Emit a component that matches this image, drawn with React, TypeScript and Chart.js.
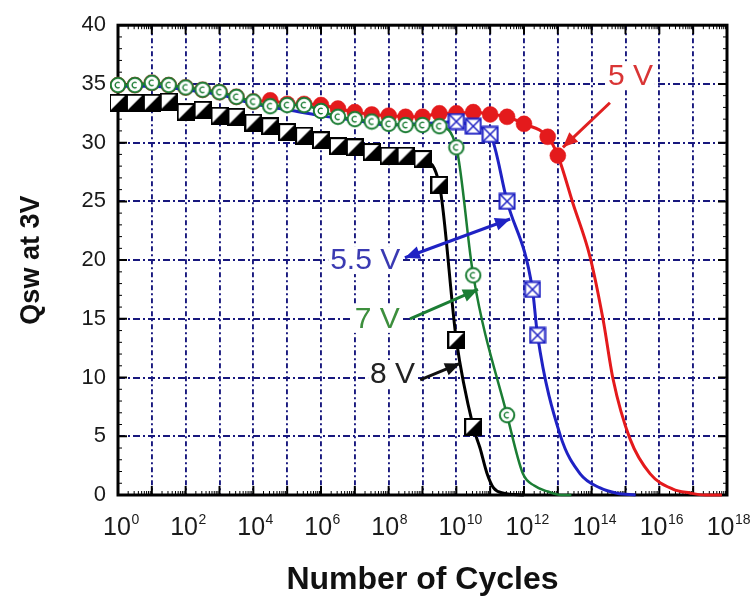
import { useEffect, useRef } from 'react';
import { Chart, registerables } from 'chart.js';
Chart.register(...registerables);

const FONT = "'Liberation Sans', Arial, Helvetica, sans-serif";
const NAVY = '#18187e';
const RED = '#e41a1c';
const BLUE = '#1f22c4';
const GREEN = '#1b7d34';
const BLACK = '#000000';

// x axis: decades (exponent of 10)
const decadeExps = [0, 1, 2, 3, 4, 5, 6, 7, 8, 9, 10, 11, 12, 13, 14, 15, 16, 17, 18];
const labelExps = [0, 2, 4, 6, 8, 10, 12, 14, 16, 18];

// 8 V (black half-filled squares)
const v8MarkerExp = [0, 0.5, 1, 1.5, 2, 2.5, 3, 3.5, 4, 4.5, 5, 5.5, 6, 6.5, 7, 7.5, 8, 8.5, 9, 9.5, 10, 10.5];
const v8MarkerQ = [33.4, 33.4, 33.4, 33.5, 32.6, 32.8, 32.3, 32.2, 31.7, 31.4, 30.9, 30.6, 30.2, 29.7, 29.6, 29.2, 28.9, 28.9, 28.6, 26.4, 13.2, 5.8];
const v8TailExp = [10.7, 10.9, 11.1, 11.4, 12.0];
const v8TailQ = [4.0, 1.9, 0.6, 0.15, 0];

// 7 V (green open circles)
const v7MarkerExp = [0, 0.5, 1, 1.5, 2, 2.5, 3, 3.5, 4, 4.5, 5, 5.5, 6, 6.5, 7, 7.5, 8, 8.5, 9, 9.5, 10, 10.5, 11.5];
const v7MarkerQ = [34.9, 34.9, 35.1, 34.9, 34.7, 34.5, 34.3, 33.9, 33.5, 33.1, 33.2, 33.2, 32.7, 32.2, 32.0, 31.8, 31.6, 31.5, 31.5, 31.4, 29.6, 18.7, 6.8];
const v7TailExp = [11.97, 12.3, 12.7, 13.1, 13.4];
const v7TailQ = [1.8, 0.8, 0.3, 0, 0];

// 5.5 V (blue crossed squares)
const v55LeadExp = [0, 1, 2, 3, 4, 5, 6, 7, 8, 9, 9.5];
const v55LeadQ = [34.8, 34.8, 34.5, 34.1, 33.3, 32.8, 32.3, 31.9, 31.5, 31.6, 31.7];
const v55MarkerExp = [10, 10.5, 11, 11.5, 12.25, 12.4];
const v55MarkerQ = [31.8, 31.4, 30.7, 25.0, 17.5, 13.6];
const v55TailExp = [13.07, 13.66, 14.25, 14.75, 15.3];
const v55TailQ = [5.1, 1.8, 0.6, 0.15, 0];

// 5 V (red filled circles)
const v5MarkerExp = [0, 0.5, 1, 1.5, 2, 2.5, 3, 3.5, 4, 4.5, 5, 5.5, 6, 6.5, 7, 7.5, 8, 8.5, 9, 9.5, 10, 10.5, 11, 11.5, 12, 12.7, 13];
const v5MarkerQ = [34.9, 34.9, 35.1, 34.9, 34.7, 34.5, 34.3, 33.9, 33.5, 33.6, 33.3, 33.3, 33.2, 32.9, 32.6, 32.4, 32.3, 32.2, 32.2, 32.5, 32.5, 32.6, 32.4, 32.2, 31.6, 30.5, 28.9];
const v5TailExp = [13.45, 13.95, 14.34, 14.63, 15.13, 15.73, 16.4, 16.9, 17.35, 17.85];
const v5TailQ = [24.8, 20.3, 14.9, 9.9, 4.8, 1.8, 0.5, 0.17, 0, 0];

const annotations = [
  { text: '5 V', textColor: '#d93535', arrowColor: '#e02020', at: [14.48, 35.7], from: [14.54, 33.4], to: [13.15, 29.6], both: false },
  { text: '5.5 V', textColor: '#3a3ab2', arrowColor: BLUE, at: [6.27, 20.0], from: [8.48, 20.2], to: [11.59, 23.5], both: true },
  { text: '7 V', textColor: '#3d8f3d', arrowColor: GREEN, at: [7.0, 15.0], from: [8.63, 15.0], to: [10.64, 17.5], both: false },
  { text: '8 V', textColor: '#222222', arrowColor: '#111111', at: [7.45, 10.3], from: [8.93, 9.8], to: [10.11, 11.2], both: false },
];

type Seg = { exp: number[]; q: number[]; marker: boolean };
function build(segs: Seg[]) {
  const data: { x: number; y: number }[] = [];
  const flags: boolean[] = [];
  segs.forEach((s) =>
    s.exp.forEach((e, i) => {
      data.push({ x: Math.pow(10, e), y: s.q[i] });
      flags.push(s.marker);
    })
  );
  return { data, flags };
}

function makeCanvas(size: number, draw: (g: CanvasRenderingContext2D) => void) {
  const c = document.createElement('canvas');
  c.width = size;
  c.height = size;
  const g = c.getContext('2d')!;
  draw(g);
  return c;
}

export default function App() {
  const ref = useRef<HTMLCanvasElement | null>(null);

  useEffect(() => {
    document.body.style.margin = '0';
    const blackSq = makeCanvas(18, (g) => {
      g.fillStyle = '#fff';
      g.fillRect(1, 1, 16, 16);
      g.fillStyle = '#000';
      g.beginPath();
      g.moveTo(17, 1);
      g.lineTo(17, 17);
      g.lineTo(1, 17);
      g.closePath();
      g.fill();
      g.strokeStyle = '#000';
      g.lineWidth = 2;
      g.strokeRect(1, 1, 16, 16);
    });
    const greenCirc = makeCanvas(18, (g) => {
      g.fillStyle = '#fff';
      g.beginPath();
      g.arc(9, 9, 7.2, 0, Math.PI * 2);
      g.fill();
      g.strokeStyle = GREEN;
      g.lineWidth = 2;
      g.stroke();
      g.lineWidth = 1.4;
      g.beginPath();
      g.arc(9, 9, 2.8, 0.3 * Math.PI, 1.7 * Math.PI);
      g.stroke();
    });
    const blueBox = makeCanvas(18, (g) => {
      g.fillStyle = '#fff';
      g.fillRect(1.5, 1.5, 15, 15);
      g.strokeStyle = BLUE;
      g.lineWidth = 2;
      g.strokeRect(1.5, 1.5, 15, 15);
      g.lineWidth = 1.5;
      g.beginPath();
      g.moveTo(2, 2);
      g.lineTo(16, 16);
      g.moveTo(16, 2);
      g.lineTo(2, 16);
      g.stroke();
    });

    const s8 = build([
      { exp: v8MarkerExp, q: v8MarkerQ, marker: true },
      { exp: v8TailExp, q: v8TailQ, marker: false },
    ]);
    const s7 = build([
      { exp: v7MarkerExp, q: v7MarkerQ, marker: true },
      { exp: v7TailExp, q: v7TailQ, marker: false },
    ]);
    const s55 = build([
      { exp: v55LeadExp, q: v55LeadQ, marker: false },
      { exp: v55MarkerExp, q: v55MarkerQ, marker: true },
      { exp: v55TailExp, q: v55TailQ, marker: false },
    ]);
    const s5 = build([
      { exp: v5MarkerExp, q: v5MarkerQ, marker: true },
      { exp: v5TailExp, q: v5TailQ, marker: false },
    ]);

    const mk = (label: string, s: ReturnType<typeof build>, color: string, style: any, width: number, order: number, filled = false) => ({
      type: 'line' as const,
      label,
      data: s.data,
      borderColor: color,
      borderWidth: width,
      backgroundColor: color,
      pointStyle: (c: any) => (s.flags[c.dataIndex] ? style : 'circle'),
      pointRadius: (c: any) => (s.flags[c.dataIndex] ? 8 : 0),
      pointHoverRadius: (c: any) => (s.flags[c.dataIndex] ? 8 : 0),
      pointBackgroundColor: color,
      pointBorderColor: color,
      pointBorderWidth: filled ? 0.5 : 1,
      cubicInterpolationMode: 'monotone' as const,
      order,
      clip: 8,
    });

    const framePlugin = {
      id: 'frame',
      beforeDatasetsDraw(chart: any) {
        const { ctx, chartArea: a, scales } = chart;
        const xs = scales.x;
        const ys = scales.y;
        ctx.save();
        ctx.strokeStyle = '#000';
        ctx.lineCap = 'butt';
        ctx.lineWidth = 2;
        ctx.beginPath();
        decadeExps.forEach((e) => {
          const px = xs.getPixelForValue(Math.pow(10, e));
          ctx.moveTo(px, a.bottom);
          ctx.lineTo(px, a.bottom - 9);
          ctx.moveTo(px, a.top);
          ctx.lineTo(px, a.top + 9);
        });
        for (let v = 0; v <= 40; v += 5) {
          const py = ys.getPixelForValue(v);
          ctx.moveTo(a.left, py);
          ctx.lineTo(a.left + 9, py);
          ctx.moveTo(a.right, py);
          ctx.lineTo(a.right - 9, py);
        }
        ctx.stroke();
        ctx.lineWidth = 1;
        ctx.beginPath();
        for (let d = 0; d < 18; d++) {
          for (let k = 2; k <= 9; k++) {
            const px = xs.getPixelForValue(k * Math.pow(10, d));
            ctx.moveTo(px, a.bottom);
            ctx.lineTo(px, a.bottom - 4);
            ctx.moveTo(px, a.top);
            ctx.lineTo(px, a.top + 4);
          }
        }
        for (let v = 0; v <= 40; v += 1) {
          if (v % 5 === 0) continue;
          const py = ys.getPixelForValue(v);
          ctx.moveTo(a.left, py);
          ctx.lineTo(a.left + 4, py);
          ctx.moveTo(a.right, py);
          ctx.lineTo(a.right - 4, py);
        }
        ctx.stroke();
        ctx.lineWidth = 3;
        ctx.strokeRect(a.left, a.top, a.right - a.left, a.bottom - a.top);
        ctx.restore();
      },
    };

    const xLabelPlugin = {
      id: 'xlabels',
      afterDraw(chart: any) {
        const { ctx, scales } = chart;
        const xs = scales.x;
        const base = xs.top + 40;
        ctx.save();
        ctx.fillStyle = '#1a1a1a';
        ctx.textBaseline = 'alphabetic';
        labelExps.forEach((e) => {
          const px = xs.getPixelForValue(Math.pow(10, e)) - 1 - e * 0.3;
          ctx.font = `25px ${FONT}`;
          ctx.textAlign = 'center';
          const w = ctx.measureText('10').width;
          ctx.fillText('10', px, base);
          ctx.font = `14px ${FONT}`;
          ctx.textAlign = 'left';
          ctx.fillText(String(e), px + w / 2 + 0.5, base - 11);
        });
        ctx.restore();
      },
    };

    const annoPlugin = {
      id: 'anno',
      afterDatasetsDraw(chart: any) {
        const { ctx, scales } = chart;
        const xs = scales.x;
        const ys = scales.y;
        const P = (p: number[]) => [xs.getPixelForValue(Math.pow(10, p[0])), ys.getPixelForValue(p[1])];
        const head = (x1: number, y1: number, x2: number, y2: number, color: string) => {
          const ang = Math.atan2(y2 - y1, x2 - x1);
          const L = 15;
          const W = 6.5;
          ctx.fillStyle = color;
          ctx.beginPath();
          ctx.moveTo(x2, y2);
          ctx.lineTo(x2 - L * Math.cos(ang) + W * Math.sin(ang), y2 - L * Math.sin(ang) - W * Math.cos(ang));
          ctx.lineTo(x2 - L * Math.cos(ang) - W * Math.sin(ang), y2 - L * Math.sin(ang) + W * Math.cos(ang));
          ctx.closePath();
          ctx.fill();
        };
        ctx.save();
        annotations.forEach((a) => {
          const [tx, ty] = P(a.at);
          ctx.font = `30px ${FONT}`;
          ctx.textAlign = 'left';
          ctx.textBaseline = 'middle';
          const w = ctx.measureText(a.text).width;
          ctx.fillStyle = '#fff';
          ctx.fillRect(tx - 2, ty - 14, w + 4, 28);
          ctx.fillStyle = a.textColor;
          ctx.fillText(a.text, tx, ty + 1);
          const [x1, y1] = P(a.from);
          const [x2, y2] = P(a.to);
          ctx.strokeStyle = a.arrowColor;
          ctx.lineWidth = 3;
          ctx.beginPath();
          ctx.moveTo(x1, y1);
          ctx.lineTo(x2, y2);
          ctx.stroke();
          head(x1, y1, x2, y2, a.arrowColor);
          if (a.both) head(x2, y2, x1, y1, a.arrowColor);
        });
        ctx.restore();
      },
    };

    const chart = new Chart(ref.current!, {
      type: 'line',
      data: {
        datasets: [
          mk('8 V', s8, BLACK, blackSq, 3, 1),
          mk('7 V', s7, GREEN, greenCirc, 2.5, 2),
          mk('5.5 V', s55, BLUE, blueBox, 3, 3),
          mk('5 V', s5, RED, 'circle', 3, 4, true),
        ] as any,
      },
      options: {
        animation: false,
        responsive: true,
        maintainAspectRatio: false,
        events: [],
        layout: { padding: { top: 20, right: 26, bottom: 0, left: 0 } },
        plugins: { legend: { display: false }, tooltip: { enabled: false } },
        scales: {
          x: {
            type: 'logarithmic',
            min: 1,
            max: 1e18,
            afterBuildTicks: (scale: any) => {
              scale.ticks = decadeExps.map((e) => ({ value: Math.pow(10, e) }));
            },
            afterFit: (scale: any) => {
              scale.height = 109;
            },
            ticks: { display: false },
            grid: { color: NAVY, lineWidth: 1.9, drawTicks: false },
            border: { display: false, dash: [5, 3, 2, 3] },
            title: {
              display: true,
              text: 'Number of Cycles',
              color: '#111',
              font: { family: FONT, size: 32, weight: 'bold' },
              padding: { top: 0, bottom: 5 },
            },
          },
          y: {
            type: 'linear',
            min: 0,
            max: 40,
            afterFit: (scale: any) => {
              scale.width = 118;
            },
            ticks: { stepSize: 5, color: '#1a1a1a', padding: 12, font: { family: FONT, size: 22 } },
            grid: { color: NAVY, lineWidth: 1.9, drawTicks: false },
            border: { display: false, dash: [7, 3, 2, 3] },
            title: {
              display: true,
              text: 'Qsw at 3V',
              color: '#111',
              font: { family: FONT, size: 27, weight: 'bold' },
              padding: { top: 15, bottom: 0 },
            },
          },
        },
      } as any,
      plugins: [framePlugin, xLabelPlugin, annoPlugin],
    });
    return () => chart.destroy();
  }, []);

  return (
    <div style={{ width: 753, height: 604, position: 'relative' }}>
      <canvas ref={ref} />
    </div>
  );
}
